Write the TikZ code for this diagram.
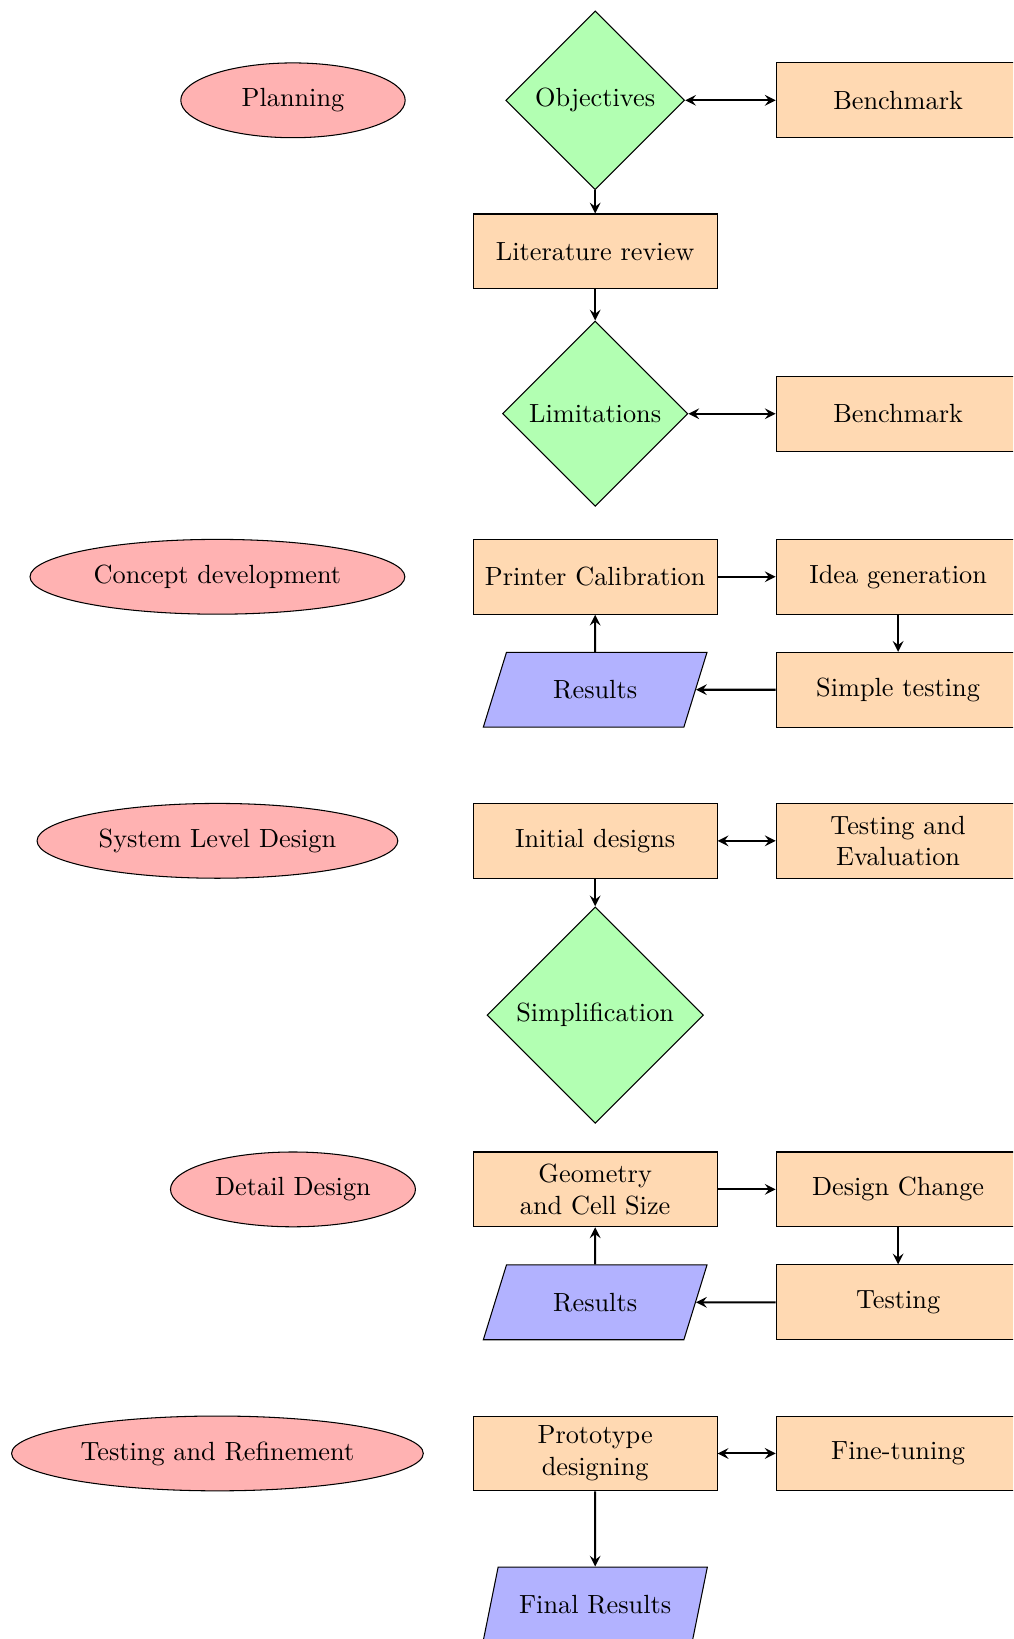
\documentclass[tikz,border=0pt]{standalone}
\usetikzlibrary{shapes.geometric}

\begin{document}
\begin{tikzpicture}[
    phase/.style={ellipse, draw, fill=red!30, minimum width=3cm, minimum height=1cm},
    process/.style={rectangle, draw, fill=orange!30, text width=3cm, align=center,
        minimum width=3.26cm, minimum height=1cm},
    decision/.style={diamond, draw, fill=green!30, aspect=1},
    io/.style={trapezium, trapezium left angle=70, trapezium right angle=110,
        trapezium stretches=true, draw, fill=blue!30, minimum width=3cm, minimum height=1cm},
    conn/.style={thick, ->, >=stealth},
    biconn/.style={thick, <->, >=stealth}
]

% Page frame (the picture is cut at the right and at the bottom)
\useasboundingbox (-7.957, 1.341) rectangle (5.586, -20.571);
\clip (-7.957, 1.341) rectangle (5.586, -20.571);

% Planning
\node[phase] (plan) at (-4.04, 0) {Planning};
\node[decision] (obj) at (0, 0) {Objectives};
\node[process] (bench1) at (4.05, 0) {Benchmark};
\node[process] (lit) at (0, -2.02) {Literature review};
\node[decision] (lim) at (0, -4.19) {Limitations};
\node[process] (bench2) at (4.05, -4.19) {Benchmark};

% Concept development
\node[phase] (concept) at (-5.05, -6.37) {Concept development};
\node[process] (calib) at (0, -6.37) {Printer Calibration};
\node[process] (idea) at (4.05, -6.37) {Idea generation};
\node[io] (res1) at (0, -7.88) {Results};
\node[process] (simple) at (4.05, -7.88) {Simple testing};

% System level design
\node[phase] (system) at (-5.05, -9.90) {System Level Design};
\node[process] (init) at (0, -9.90) {Initial designs};
\node[process] (evaltest) at (4.05, -9.90) {Testing and\\Evaluation};
\node[decision] (simp) at (0, -12.23) {Simplification};

% Detail design
\node[phase] (detail) at (-4.04, -14.56) {Detail Design};
\node[process] (geom) at (0, -14.56) {Geometry\\and Cell Size};
\node[process] (change) at (4.05, -14.56) {Design Change};
\node[io] (res2) at (0, -16.07) {Results};
\node[process] (test) at (4.05, -16.07) {Testing};

% Testing and refinement
\node[phase] (refine) at (-5.05, -18.09) {Testing and Refinement};
\node[process] (proto) at (0, -18.09) {Prototype\\designing};
\node[process] (tune) at (4.05, -18.09) {Fine-tuning};
\node[io] (final) at (0, -20.11) {Final Results};

% Connectors
\draw[biconn] (obj) -- (bench1);
\draw[conn] (obj) -- (lit);
\draw[conn] (lit) -- (lim);
\draw[biconn] (lim) -- (bench2);

\draw[conn] (calib) -- (idea);
\draw[conn] (idea) -- (simple);
\draw[conn] (simple) -- (res1);
\draw[conn] (res1) -- (calib);

\draw[biconn] (init) -- (evaltest);
\draw[conn] (init) -- (simp);

\draw[conn] (geom) -- (change);
\draw[conn] (change) -- (test);
\draw[conn] (test) -- (res2);
\draw[conn] (res2) -- (geom);

\draw[biconn] (proto) -- (tune);
\draw[conn] (proto) -- (final);

\end{tikzpicture}
\end{document}
